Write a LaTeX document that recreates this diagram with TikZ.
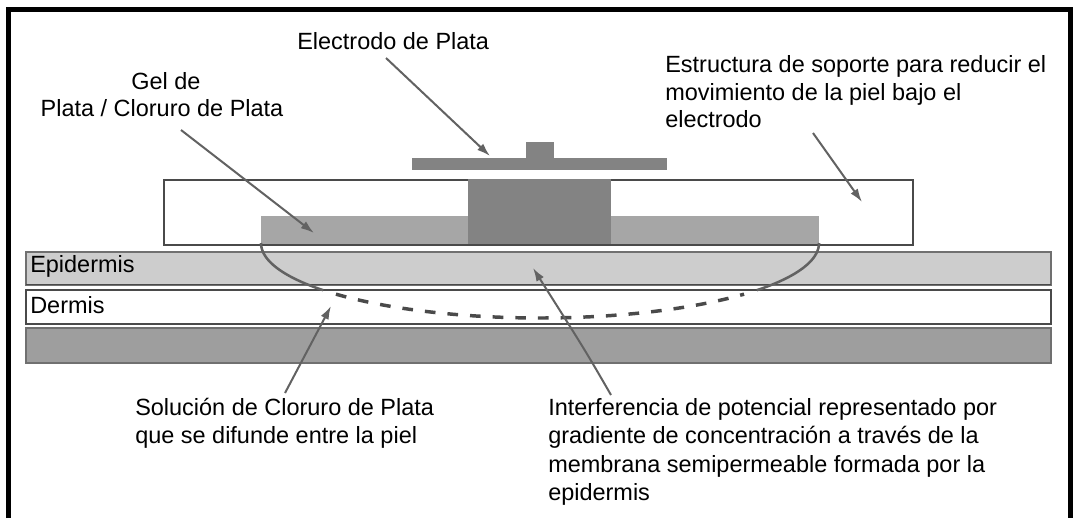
\documentclass[tikz,border=0pt]{standalone}
\usepackage{fontspec}
\setmainfont{Liberation Sans}
\usetikzlibrary{arrows.meta}
\definecolor{epifill}{HTML}{CDCDCD}
\definecolor{hypofill}{HTML}{9E9E9E}
\definecolor{gelfill}{HTML}{A6A6A6}
\definecolor{metal}{HTML}{838383}
\definecolor{edgegray}{HTML}{707070}
\definecolor{darkedge}{HTML}{4A4A4A}
\definecolor{arrowgray}{HTML}{626262}
\begin{document}
\begin{tikzpicture}[x=0.75pt,y=-0.75pt,
  lbl/.style={anchor=base west, inner sep=0pt, font=\fontsize{17.6}{21}\selectfont},
  lblc/.style={anchor=base, inner sep=0pt, font=\fontsize{17.6}{21}\selectfont},
  pointer/.style={draw=arrowgray, line width=1.5pt, -{Latex[length=10pt,width=6.5pt]}},
  layer/.style={line width=1pt},
  boundary/.style={draw=arrowgray, line width=1.9pt},
  diffusion/.style={draw=darkedge, line width=2.6pt, dash pattern=on 8pt off 9pt}]
\useasboundingbox (0,0) rectangle (1073,518);
\fill[white] (0,0) rectangle (1073,518);

% outer frame, open at the bottom
\draw[line width=3.8pt] (8.5,518) -- (8.5,9.5) -- (1070.5,9.5) -- (1070.5,518);

% skin layers
\filldraw[layer, fill=epifill, draw=edgegray] (26,252) rectangle (1051,285);
\draw[line width=1.3pt, darkedge] (26,284.5) -- (1051,284.5);
\filldraw[layer, fill=white, draw=darkedge] (26,290) rectangle (1051,324);
\filldraw[layer, fill=hypofill, draw=edgegray] (26,328) rectangle (1051,363);

% support structure, gel and electrode
\filldraw[fill=white, draw=darkedge, line width=1.3pt] (164,180) rectangle (913,245);
\fill[gelfill] (261,216) rectangle (819,244);
\fill[metal] (468,179) rectangle (611,244);
\fill[metal] (412,158) rectangle (667,170);
\fill[metal] (526,142) rectangle (554,158);

% diffusion boundary of the silver chloride solution
\draw[boundary] plot[domain=180:141, samples=40] ({540+279*cos(\x)},{243+75*sin(\x)});
\draw[diffusion] plot[domain=137:43, samples=60] ({540+279*cos(\x)},{243+75*sin(\x)});
\draw[boundary] plot[domain=39:0, samples=40] ({540+279*cos(\x)},{243+75*sin(\x)});

% labels
\node[lbl] (electrodo) at (297,49) {Electrodo de Plata};
\node[lblc] (gel1) at (166,89) {Gel de};
\node[lblc] (gel2) at (162,116) {Plata / Cloruro de Plata};
\node[lbl] (est1) at (665,72) {Estructura de soporte para reducir el};
\node[lbl] (est2) at (665,100) {movimiento de la piel bajo el};
\node[lbl] (est3) at (665,127) {electrodo};
\node[lbl] (epi) at (30,272) {Epidermis};
\node[lbl] (derm) at (30,313) {Dermis};
\node[lbl] (sol1) at (135,415) {Solución de Cloruro de Plata};
\node[lbl] (sol2) at (135,443.5) {que se difunde entre la piel};
\node[lbl] (int1) at (548,415) {Interferencia de potencial representado por};
\node[lbl] (int2) at (548,443.5) {gradiente de concentración a través de la};
\node[lbl] (int3) at (548,472) {membrana semipermeable formada por la};
\node[lbl] (int4) at (548,500.5) {epidermis};

% pointer ends
\coordinate (eTail) at (386,58);
\coordinate (eTip) at (490,156);
\coordinate (gTail) at (181,130);
\coordinate (gTip) at (314,233);
\coordinate (sTail) at (813,133);
\coordinate (sTip) at (862,202);
\coordinate (dTail) at (285,393);
\coordinate (dTip) at (331,306);
\coordinate (iTail) at (611,395);
\coordinate (iTip) at (533,268);

\draw[pointer] (eTail) -- (eTip);
\draw[pointer] (gTail) -- (gTip);
\draw[pointer] (sTail) -- (sTip);
\draw[pointer] (dTail) -- (dTip);
\draw[pointer] (iTail) .. controls (585,350) .. (iTip);
\end{tikzpicture}
\end{document}
